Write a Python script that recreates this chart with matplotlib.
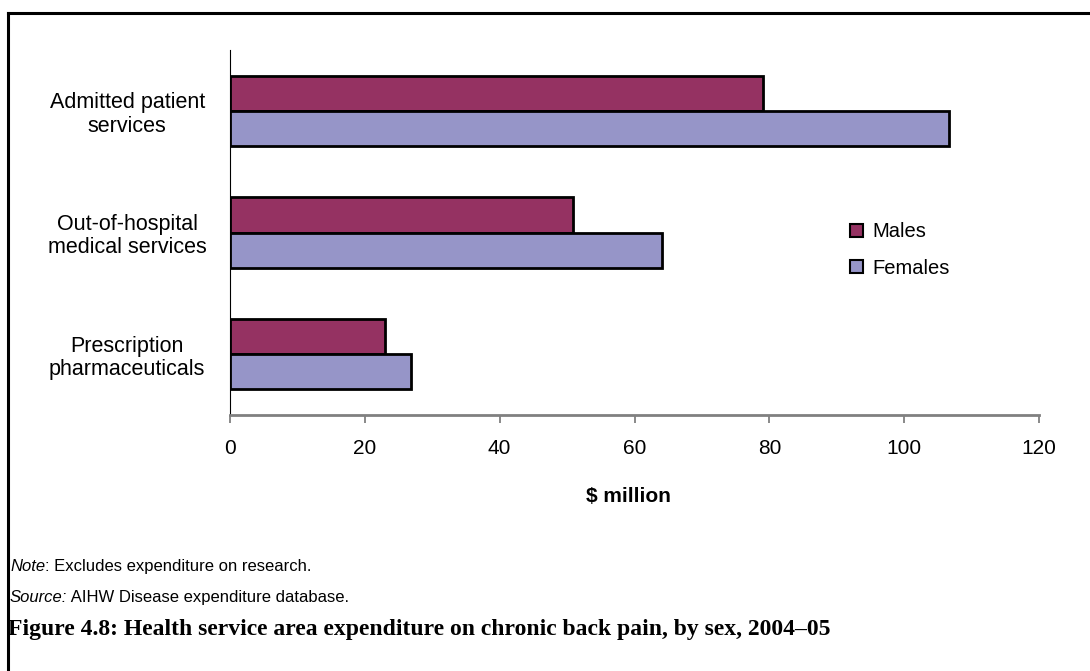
import matplotlib
matplotlib.use("Agg")
import matplotlib.pyplot as plt
from matplotlib.lines import Line2D
from matplotlib.patches import Patch
import numpy as np

categories = ["Admitted patient\nservices",
              "Out-of-hospital\nmedical services",
              "Prescription\npharmaceuticals"]
males = [79.1, 50.9, 23.0]
females = [106.7, 64.1, 26.9]
series_names = ["Males", "Females"]
xticks = [0, 20, 40, 60, 80, 100, 120]

male_color = "#953262"
female_color = "#9695C8"

W, H = 1090, 671
plt.rcParams["font.family"] = ["Liberation Sans", "DejaVu Sans"]
fig = plt.figure(figsize=(W / 100, H / 100), dpi=100)

# plot area in pixel terms
left, right, top, bottom = 230, 1039, 50, 415
ax = fig.add_axes([left / W, 1 - bottom / H, (right - left) / W, (bottom - top) / H])

y = np.arange(len(categories))
bh = 0.29
ax.barh(y - bh / 2, males, height=bh, color=male_color, edgecolor="black", linewidth=2)
ax.barh(y + bh / 2, females, height=bh, color=female_color, edgecolor="black", linewidth=2)

ax.set_xlim(0, 120)
ax.set_ylim(2.5, -0.5)
ax.set_xticks(xticks)
ax.set_xticklabels([str(t) for t in xticks], fontsize=15)
ax.set_yticks(y)
ax.set_yticklabels(categories, fontsize=15.5, linespacing=1.15, ha="center")
ax.tick_params(axis="y", length=0, pad=74)
ax.tick_params(axis="x", length=6, width=1.3, color="#808080", pad=11)

for s in ["top", "right"]:
    ax.spines[s].set_visible(False)
ax.spines["bottom"].set_color("#808080")
ax.spines["bottom"].set_linewidth(2)
ax.spines["left"].set_color("black")
ax.spines["left"].set_linewidth(0.8)

fig.text(628 / W, 1 - 497 / H, "$ million", ha="center", va="center",
         fontsize=15, fontweight="bold")

handles = [Patch(facecolor=male_color, edgecolor="black", linewidth=1.5),
           Patch(facecolor=female_color, edgecolor="black", linewidth=1.5)]
fig.legend(handles, series_names, loc="center left",
           bbox_to_anchor=(836 / W, 1 - 250 / H), frameon=False, fontsize=14.5,
           handlelength=0.65, handleheight=0.65, handletextpad=0.45, labelspacing=0.85,
           borderpad=0.2)


def label_pair(ybase, lead, rest, size):
    """Italic lead word followed by upright text on a shared baseline."""
    t = fig.text(10 / W, 1 - ybase / H, lead, fontsize=size, va="baseline", ha="left",
                 style="italic")
    fig.canvas.draw()
    bb = t.get_window_extent()
    fig.text(bb.x1 / W, 1 - ybase / H, rest, fontsize=size, va="baseline", ha="left")


label_pair(571, "Note", ": Excludes expenditure on research.", 12)
label_pair(602, "Source:", " AIHW Disease expenditure database.", 12)

fig.text(8 / W, 1 - 630 / H,
         "Figure 4.8: Health service area expenditure on chronic back pain, by sex, 2004\u201305",
         fontsize=17, fontweight="bold", va="center", ha="left",
         family=["Liberation Serif", "DejaVu Serif"])

# frame around the figure region
fig.add_artist(Line2D([8 / W, 8 / W], [1 - 13 / H, 0], color="black", linewidth=2.2,
                      transform=fig.transFigure))
fig.add_artist(Line2D([8 / W, 1], [1 - 13 / H, 1 - 13 / H], color="black", linewidth=2.2,
                      transform=fig.transFigure))

fig.savefig("out.png", dpi=100)
